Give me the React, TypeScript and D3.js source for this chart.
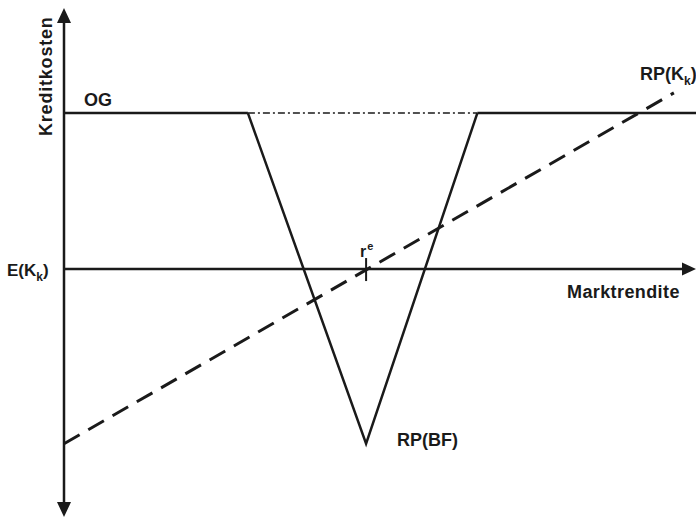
import React from "react";
import * as d3 from "d3";

// Data (abstract units): x = Marktrendite, y = Kreditkosten (E(Kk) = 0)
const X_DOMAIN = [0, 100];
const Y_DOMAIN = [-79.5, 83.7];
const OG_LEVEL = 50;
const E_LEVEL = 0;
const RE = 47.8;
// RP(BF): V-shaped line
const RPBF_X = [29.1, 47.8, 65.4];
const RPBF_Y = [50, -56, 50];
// RP(Kk): dashed straight line
const RPK_X = [0, 96.5];
const RPK_Y = [-56, 56.5];

const W = 696;
const H = 521;

export default function App() {
  const x = d3.scaleLinear().domain(X_DOMAIN).range([64, 696]);
  const y = d3.scaleLinear().domain(Y_DOMAIN).range([517, 8]);
  const line = d3.line<[number, number]>().x((d) => x(d[0])).y((d) => y(d[1]));

  const vPts: [number, number][] = RPBF_X.map((v, i) => [v, RPBF_Y[i]]);
  const kPts: [number, number][] = RPK_X.map((v, i) => [v, RPK_Y[i]]);

  const x0 = x(0);
  const yTop = y(Y_DOMAIN[1]);
  const yBot = y(Y_DOMAIN[0]);
  const yOG = y(OG_LEVEL);
  const yE = y(E_LEVEL);
  const xRe = x(RE);
  const font = "'Liberation Sans', Arial, sans-serif";
  const stroke = "#1a1a1a";

  return (
    <svg
      width={W}
      height={H}
      style={{ position: "absolute", left: 0, top: 0, background: "#fff" }}
      fontFamily={font}
      fontWeight="bold"
    >
      {/* Y axis with arrows both ends */}
      <line x1={x0} y1={yTop + 12} x2={x0} y2={yBot - 12} stroke={stroke} strokeWidth={2.5} />
      <path d={`M${x0},${yTop} L${x0 - 7},${yTop + 15} L${x0 + 7},${yTop + 15} Z`} fill={stroke} />
      <path d={`M${x0},${yBot} L${x0 - 7},${yBot - 15} L${x0 + 7},${yBot - 15} Z`} fill={stroke} />

      {/* OG line: solid outside V, dash-dot inside */}
      <line x1={x0} y1={yOG} x2={x(RPBF_X[0])} y2={yOG} stroke={stroke} strokeWidth={2.5} />
      <line
        x1={x(RPBF_X[0])}
        y1={yOG}
        x2={x(RPBF_X[2])}
        y2={yOG}
        stroke={stroke}
        strokeWidth={1.5}
        strokeDasharray="7 3 2 3"
      />
      <line x1={x(RPBF_X[2])} y1={yOG} x2={W} y2={yOG} stroke={stroke} strokeWidth={2.5} />

      {/* E(Kk) horizontal axis with arrow */}
      <line x1={x0} y1={yE} x2={W - 12} y2={yE} stroke={stroke} strokeWidth={2.5} />
      <path d={`M${W},${yE} L${W - 14},${yE - 6.5} L${W - 14},${yE + 6.5} Z`} fill={stroke} />

      {/* r^e tick */}
      <line x1={xRe} y1={yE - 11} x2={xRe} y2={yE + 12} stroke={stroke} strokeWidth={2} />

      {/* RP(BF) V */}
      <path d={line(vPts) || ""} fill="none" stroke={stroke} strokeWidth={2.5} strokeLinejoin="miter" />

      {/* RP(Kk) dashed */}
      <path
        d={line(kPts) || ""}
        fill="none"
        stroke={stroke}
        strokeWidth={3}
        strokeDasharray="18 10"
      />

      {/* Labels */}
      <text
        transform={`translate(52,${136}) rotate(-90)`}
        fontSize={18}
        letterSpacing={0.8}
        fill={stroke}
      >
        Kreditkosten
      </text>
      <text x={84} y={106} fontSize={18} fill={stroke}>OG</text>
      <text x={7} y={276} fontSize={17} fill={stroke}>
        E(K<tspan fontSize={12} dy={5}>k</tspan><tspan dy={-5}>)</tspan>
      </text>
      <text x={360} y={257} fontSize={16} fill={stroke}>
        r<tspan fontSize={11} dy={-7} dx={1}>e</tspan>
      </text>
      <text x={567} y={298} fontSize={18} letterSpacing={0.4} fill={stroke}>Marktrendite</text>
      <text x={397} y={446} fontSize={18} fill={stroke}>RP(BF)</text>
      <text x={640} y={80} fontSize={18} fill={stroke}>
        RP(K<tspan fontSize={12} dy={5}>k</tspan><tspan dy={-5}>)</tspan>
      </text>
    </svg>
  );
}
